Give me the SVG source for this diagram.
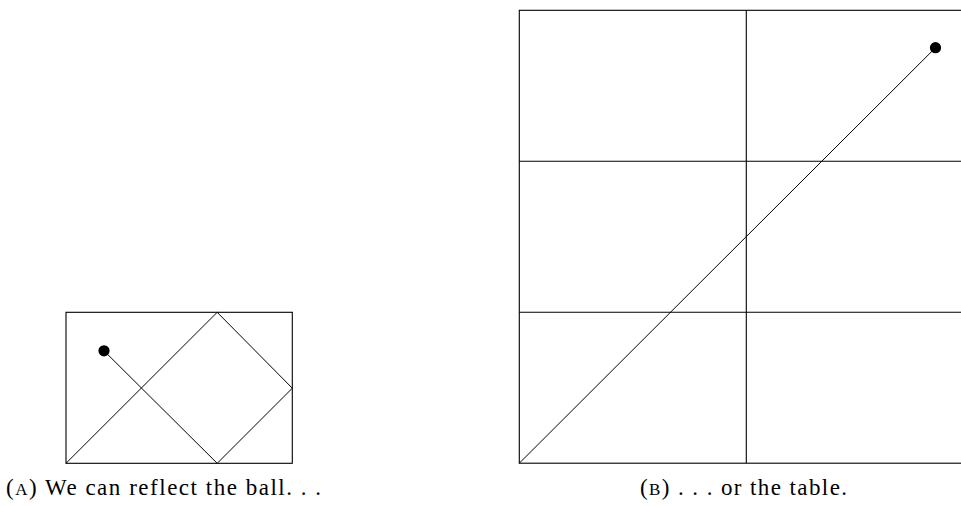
<svg xmlns="http://www.w3.org/2000/svg" width="961" height="506" viewBox="0 0 961 506">
  <style>
    .frame { fill: none; stroke: #000; stroke-width: 1.1; }
    .path { fill: none; stroke: #000; stroke-width: 1; stroke-linejoin: miter; }
    .ball { fill: #000; }
    .cap { font-family: "Liberation Serif", "DejaVu Serif", serif; font-size: 23px; fill: #000; }
    .sc { font-size: 17px; }
  </style>
  <rect width="961" height="506" fill="#fff"/>
  <g id="figure-a">
    <rect class="frame" x="66" y="312.3" width="226.3" height="151"/>
    <g id="connectors-a">
      <polyline class="path" points="104,350.8 217.2,463.3 292.3,388.2 217.2,312.3 66,463.3"/>
    </g>
    <circle id="ball-a" class="ball" cx="104" cy="350.8" r="5.6"/>
    <text id="caption-a" class="cap" x="6" y="495" textLength="315" lengthAdjust="spacing">(<tspan class="sc">A</tspan>)  We can reflect the ball. . .</text>
  </g>
  <g id="figure-b">
    <rect class="frame" x="519.3" y="10.3" width="453" height="452.9"/>
    <line class="frame" x1="746.3" y1="10.3" x2="746.3" y2="463.2"/>
    <line class="frame" x1="519.3" y1="161.3" x2="972.3" y2="161.3"/>
    <line class="frame" x1="519.3" y1="312.3" x2="972.3" y2="312.3"/>
    <g id="connectors-b">
      <line class="path" x1="519.3" y1="463.2" x2="935.5" y2="47.7"/>
    </g>
    <circle id="ball-b" class="ball" cx="935.5" cy="47.7" r="5.6"/>
    <text id="caption-b" class="cap" x="640" y="495" textLength="207" lengthAdjust="spacing">(<tspan class="sc">B</tspan>) . . . or the table.</text>
  </g>
</svg>
